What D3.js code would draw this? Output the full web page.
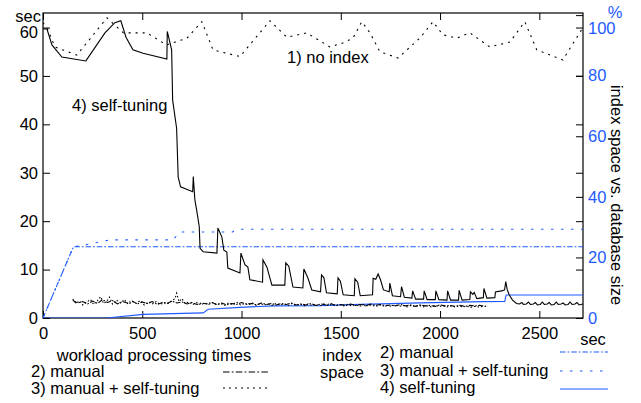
<!DOCTYPE html>
<html>
<head>
<meta charset="utf-8">
<script src="https://cdn.jsdelivr.net/npm/d3@7"></script>
<style>
  body { margin: 0; background: #fff; }
  svg text { font-family: "Liberation Sans", Arial, sans-serif; font-size: 16.5px; }
</style>
</head>
<body>
<div id="chart"></div>
<script>
const width = 641;
const height = 403;
const blue = '#1e5aff';

// workload processing times (sec) - [time, value]
const noIndex = [[0,61],[20,60],[60,56],[170,54.3],[220,56.8],[322,62],[405,58.9],[523,58.9],[622,56.4],[725,57.8],
  [800,61.2],[856,55.4],[992,54],[1143,61.4],[1228,58],[1328,58.9],[1445,56],[1510,56.8],[1561,57.8],[1606,61.2],
  [1647,58.9],[1697,55],[1788,53.7],[1898,57.8],[1964,61.2],[2014,58.5],[2085,57.8],[2150,58.9],[2250,56],[2352,57],
  [2427,61.2],[2487,55.4],[2618,53.3],[2720,60]];

const selfTuning = [[0,59.7],[20,59.7],[45,56.4],[95,53.9],[216,53.1],[312,58.9],[362,61],[392,61.4],[418,58],[453,55.4],
  [504,54.7],[624,53.5],[626,59.2],[648,55.4],[653,45],[673,39.2],[681,29.1],[693,27.1],[754,26.1],[757,29.2],[765,24.4],
  [774,22.3],[787,18.9],[791,14.4],[807,13.7],[876,13.4],[881,18.6],[901,16.7],[911,14],[926,13.6],[931,10.3],[992,9.3],
  [997,13.4],[1017,11],[1032,10.5],[1042,7.9],[1106,7.4],[1108,12],[1128,10.5],[1153,6.8],[1218,6.8],[1223,11.4],
  [1238,10.7],[1259,6.4],[1309,6.2],[1314,10.1],[1334,8.3],[1354,5.8],[1398,5.4],[1403,8.9],[1415,8.3],[1428,5.2],
  [1482,5.0],[1486,8.3],[1498,7.6],[1512,4.8],[1568,4.6],[1571,8.1],[1585,7.4],[1598,4.6],[1660,4.8],[1663,8.2],
  [1676,8.0],[1688,9.1],[1700,7.9],[1715,5.8],[1744,5.4],[1747,7.2],[1760,4.6],[1801,4.4],[1806,6.5],[1820,4.3],
  [1858,4.1],[1862,5.6],[1877,3.9],[1917,3.9],[1920,5.6],[1935,3.8],[1976,3.8],[1979,5.6],[1994,3.8],[2035,3.7],
  [2038,5.6],[2053,3.7],[2093,3.7],[2096,5.7],[2111,3.7],[2150,3.8],[2153,5.4],[2165,4.9],[2172,5.3],[2185,4.0],
  [2218,4.2],[2221,6.1],[2236,4.1],[2276,4.2],[2279,5.4],[2310,5.6],[2325,5.8],[2331,7.5],[2338,5.9],[2348,4.8],
  [2365,3.7],[2385,3.0],[2400,2.9],[2412,3.2],[2420,2.8],[2435,2.9],[2445,3.3],[2455,2.8],[2470,2.9],[2480,3.2],
  [2490,2.7],[2505,2.8],[2515,3.3],[2525,2.8],[2540,2.9],[2550,3.2],[2560,2.7],[2575,2.8],[2585,3.3],[2595,2.8],
  [2610,2.9],[2620,3.1],[2630,2.7],[2645,2.8],[2655,3.3],[2665,2.8],[2680,2.9],[2690,3.2],[2700,2.7],[2720,2.9]];

const manual = [[150,3.6],[175,3.1],[200,3.4],[225,2.9],[250,3.5],[275,3.0],[300,3.8],[325,3.2],[350,3.6],[375,2.9],
  [400,3.4],[425,3.1],[450,3.5],[475,2.9],[500,3.3],[525,3.0],[550,3.4],[575,2.8],[600,3.2],[625,3.0],[650,3.5],
  [675,3.1],[700,3.3],[725,2.9],[750,3.2],[775,2.8],[800,3.1],[825,2.9],[850,3.2],[875,2.8],[900,3.1],[925,2.7],
  [950,3.0],[975,2.8],[1000,3.2],[1025,2.9],[1050,3.0],[1075,2.7],[1100,3.1],[1125,2.8],[1150,3.0],[1175,2.7],
  [1200,3.0],[1225,2.8],[1250,3.1],[1275,2.7],[1300,2.9],[1325,2.7],[1350,3.0],[1375,2.6],[1400,2.9],[1425,2.7],
  [1450,3.0],[1475,2.6],[1500,2.8],[1525,2.6],[1550,2.9],[1575,2.6],[1600,2.8],[1625,2.5],[1650,2.9],[1675,2.6],
  [1700,2.8],[1725,2.5],[1750,2.7],[1775,2.5],[1800,2.8],[1825,2.5],[1850,2.7],[1875,2.4],[1900,2.7],[1925,2.5],
  [1950,2.6],[1975,2.4],[2000,2.7],[2025,2.5],[2050,2.6],[2075,2.4],[2100,2.6],[2125,2.4],[2150,2.6],[2175,2.5],
  [2200,2.6],[2225,2.4],[2240,2.5]];

const manualSelf = [[150,3.9],[165,3.0],[185,3.5],[200,2.7],[220,3.3],[240,3.8],[255,2.8],[275,3.6],[290,4.4],[305,3.0],
  [320,3.4],[335,4.3],[350,2.9],[370,3.7],[390,3.1],[410,3.8],[430,2.8],[450,3.4],[470,3.0],[490,3.6],[510,2.7],
  [530,3.3],[550,2.9],[570,3.4],[590,2.8],[610,3.2],[630,3.0],[650,3.6],[665,4.0],[673,5.1],[685,3.4],[700,4.0],
  [715,3.0],[735,3.3],[755,2.8],[775,3.2],[795,2.7],[815,3.1],[835,2.8],[855,3.2],[875,2.7],[895,3.0],[915,2.6],
  [935,3.1],[955,2.8],[975,3.3],[995,2.7],[1015,3.0],[1035,2.7],[1055,3.1],[1075,2.6],[1095,3.0],[1115,2.7],
  [1135,2.9],[1155,2.6],[1175,3.0],[1195,2.7],[1215,2.9],[1235,2.6],[1255,3.0],[1275,2.6],[1295,2.9],[1315,2.5],
  [1335,2.9],[1355,2.6],[1375,2.8],[1395,2.5],[1415,2.9],[1435,2.6],[1455,2.8],[1475,2.5],[1495,2.8],[1515,2.5],
  [1535,2.8],[1555,2.5],[1575,2.7],[1595,2.4],[1615,2.8],[1635,2.5],[1655,2.7],[1675,2.4],[1695,2.7],[1715,2.5],
  [1735,2.6],[1755,2.4],[1775,2.7],[1795,2.4],[1815,2.6],[1835,2.3],[1855,2.6],[1875,2.4],[1895,2.6],[1915,2.3],
  [1935,2.5],[1955,2.3],[1975,2.6],[1995,2.4],[2015,2.5],[2035,2.3],[2055,2.5],[2075,2.3],[2095,2.5],[2115,2.3],
  [2135,2.4],[2155,2.2],[2175,2.4],[2195,2.3],[2215,2.4]];

// index space vs. database size (%)
const idxManual = [[0,0],[153,23.5],[2720,23.5]];
const idxManualSelf = [[0,0],[153,23.5],[200,24.0],[300,25.3],[340,25.8],[655,25.8],[690,28.4],[955,28.4],[975,29.3],[2720,29.3]];
const idxSelf = [[0,0],[320,0],[505,1.2],[807,1.7],[832,2.9],[992,3.5],[1160,4.0],[1395,4.1],[1600,4.5],[1900,5.0],
  [2218,5.4],[2326,5.5],[2333,7.6],[2720,7.6]];

const xTicks = [0, 500, 1000, 1500, 2000, 2500];
const yTicks = [0, 10, 20, 30, 40, 50, 60];
const y2Ticks = [0, 20, 40, 60, 80, 100];

const svg = d3.select('#chart')
    .append('svg')
    .attr('width', width)
    .attr('height', height)

const x = d3.scaleLinear().domain([0, 2720]).range([43, 583]);
const y = d3.scaleLinear().domain([0, 63]).range([318, 13]);
const y2 = d3.scaleLinear().domain([0, 100.7]).range([318, 13]);

svg.append('clipPath').attr('id', 'plot')
    .append('rect')
    .attr('x', 43).attr('y', 13)
    .attr('width', 540).attr('height', 305)

//Axes (ticks point inward, like gnuplot)

const styleAxis = (g) => {
    g.select('.domain').remove();
    g.selectAll('.tick line').attr('stroke', '#000');
    g.selectAll('text').style('font-size', '16.5px').attr('fill', '#000');
};

svg.append('g')
    .attr('transform', 'translate(0,318)')
    .call(d3.axisBottom(x).tickValues(xTicks).tickSize(-7).tickPadding(9).tickFormat(d3.format('d')))
    .call(styleAxis)

svg.append('g')
    .attr('transform', 'translate(0,13)')
    .call(d3.axisTop(x).tickValues(xTicks).tickSize(-7).tickFormat(''))
    .call(styleAxis)

const yAxis = svg.append('g')
    .attr('transform', 'translate(43,0)')
    .call(d3.axisLeft(y).tickValues(yTicks).tickSize(-7).tickPadding(5))
    .call(styleAxis)

yAxis.selectAll('.tick').filter((d) => d === 60).select('text').attr('dy', '0.62em')

svg.append('g')
    .attr('transform', 'translate(583,0)')
    .call(d3.axisRight(y).tickValues(yTicks).tickSize(-7).tickFormat(''))
    .call(styleAxis)

const y2Axis = svg.append('g')
    .attr('transform', 'translate(583,0)')
    .call(d3.axisRight(y2).tickValues(y2Ticks).tickSize(-7).tickPadding(5))
    .call(styleAxis)

y2Axis.selectAll('text').attr('fill', blue)
y2Axis.selectAll('.tick').filter((d) => d === 100).select('text').attr('dy', '1.1em')

svg.append('rect')
    .attr('x', 43).attr('y', 13)
    .attr('width', 540).attr('height', 305)
    .attr('fill', 'none')
    .attr('stroke', '#000')
    .attr('stroke-width', 1.2)

//Lines

const lineY = d3.line().x((d) => x(d[0])).y((d) => y(d[1]));
const lineY2 = d3.line().x((d) => x(d[0])).y((d) => y2(d[1]));

const series = [
    { data: idxManual, line: lineY2, color: blue, dash: '5.5,2,1.7,2' },
    { data: idxManualSelf, line: lineY2, color: blue, dash: '2.5,7.5' },
    { data: idxSelf, line: lineY2, color: blue, dash: null },
    { data: noIndex, line: lineY, color: '#000', dash: '2,5' },
    { data: manual, line: lineY, color: '#000', dash: '5,1.5,1.5,1.5' },
    { data: manualSelf, line: lineY, color: '#000', dash: '1.5,2' },
    { data: selfTuning, line: lineY, color: '#000', dash: null },
];

svg.append('g')
    .attr('clip-path', 'url(#plot)')
    .selectAll('path')
    .data(series)
    .enter()
    .append('path')
    .attr('d', (d) => d.line(d.data))
    .attr('fill', 'none')
    .attr('stroke', (d) => d.color)
    .attr('stroke-width', 1.1)
    .attr('stroke-dasharray', (d) => d.dash)

//Texts

const label = (tx, ty, s, anchor, fill) => svg.append('text')
    .attr('x', tx).attr('y', ty)
    .attr('text-anchor', anchor || 'start')
    .attr('fill', fill || '#000')
    .text(s);

label(41, 22, 'sec', 'end')
label(615, 18, '%', 'middle', blue)
label(593, 345, 'sec', 'middle')
label(287, 63, '1) no index')
label(72, 111, '4) self-tuning')

svg.append('text')
    .attr('transform', 'translate(611,195) rotate(90)')
    .attr('text-anchor', 'middle')
    .text('index space vs. database size')

//Legend

label(154, 361, 'workload processing times', 'middle')
label(342, 361, 'index', 'middle')
label(342, 378, 'space', 'middle')

const legendItems = [
    { name: '2) manual', tx: 31, ty: 377, ly: 372, x0: 223, x1: 270, color: '#000', dash: '6.5,2.3,1.7,2.3' },
    { name: '3) manual + self-tuning', tx: 31, ty: 394, ly: 388, x0: 223, x1: 270, color: '#000', dash: '2,4' },
    { name: '2) manual', tx: 380, ty: 358, ly: 352, x0: 560, x1: 608, color: blue, dash: '5.5,2,1.7,2' },
    { name: '3) manual + self-tuning', tx: 380, ty: 376, ly: 371, x0: 560, x1: 608, color: blue, dash: '2.5,7.5' },
    { name: '4) self-tuning', tx: 380, ty: 393, ly: 389, x0: 560, x1: 608, color: blue, dash: null },
];

const legend = svg.append('g')
    .selectAll('g')
    .data(legendItems)
    .enter()
    .append('g')

legend
    .append('text')
    .attr('x', (d) => d.tx)
    .attr('y', (d) => d.ty)
    .text((d) => d.name)

legend
    .append('line')
    .attr('x1', (d) => d.x0)
    .attr('x2', (d) => d.x1)
    .attr('y1', (d) => d.ly)
    .attr('y2', (d) => d.ly)
    .attr('stroke', (d) => d.color)
    .attr('stroke-width', 1.2)
    .attr('stroke-dasharray', (d) => d.dash)
</script>
</body>
</html>
